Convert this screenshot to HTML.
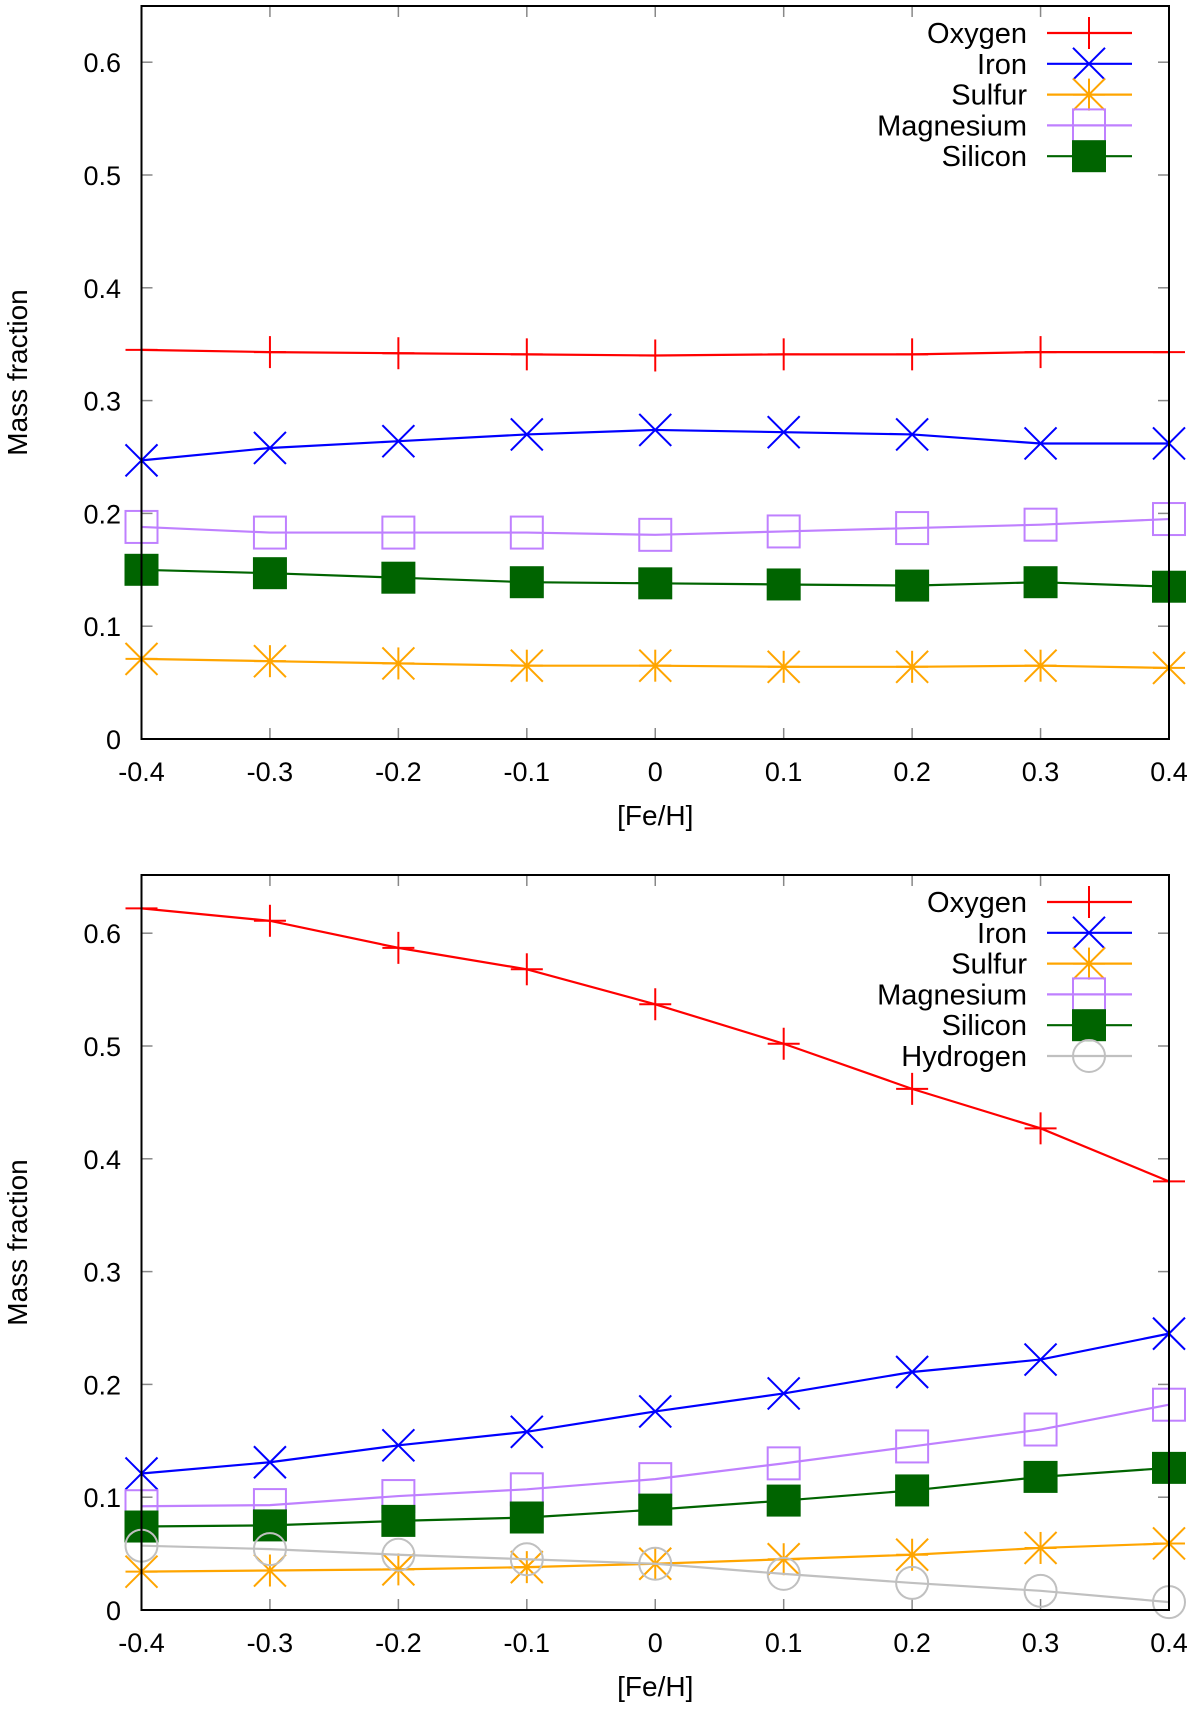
<!DOCTYPE html>
<html><head><meta charset="utf-8"><style>
html,body{margin:0;padding:0;background:#fff;}
svg{display:block;font-family:"Liberation Sans",sans-serif;}
</style></head><body>
<svg id="chart" width="1200" height="1711" viewBox="0 0 1200 1711" xmlns="http://www.w3.org/2000/svg"></svg>
<script>
const xCats = [-0.4,-0.3,-0.2,-0.1,0,0.1,0.2,0.3,0.4];
const xTickLabels = ["-0.4","-0.3","-0.2","-0.1","0","0.1","0.2","0.3","0.4"];
const yTicks = [0,0.1,0.2,0.3,0.4,0.5,0.6];
const yTickLabels = ["0","0.1","0.2","0.3","0.4","0.5","0.6"];
// top panel
const topOxygen = [0.345,0.343,0.342,0.341,0.340,0.341,0.341,0.343,0.343];
const topIron = [0.247,0.258,0.264,0.270,0.274,0.272,0.270,0.262,0.262];
const topSulfur = [0.071,0.069,0.067,0.065,0.065,0.064,0.064,0.065,0.063];
const topMagnesium = [0.188,0.183,0.183,0.183,0.181,0.184,0.187,0.190,0.195];
const topSilicon = [0.150,0.147,0.143,0.139,0.138,0.137,0.136,0.139,0.135];
// bottom panel
const botOxygen = [0.622,0.611,0.587,0.568,0.537,0.502,0.462,0.427,0.380];
const botIron = [0.121,0.131,0.146,0.158,0.176,0.192,0.211,0.222,0.245];
const botSulfur = [0.034,0.035,0.036,0.038,0.041,0.045,0.049,0.055,0.059];
const botMagnesium = [0.092,0.093,0.101,0.107,0.116,0.130,0.145,0.160,0.182];
const botSilicon = [0.074,0.075,0.079,0.082,0.089,0.097,0.106,0.118,0.126];
const botHydrogen = [0.057,0.054,0.049,0.045,0.041,0.032,0.024,0.017,0.007];

const NS="http://www.w3.org/2000/svg";
const svg=document.getElementById('chart');
function mk(tag,attrs,parent){const e=document.createElementNS(NS,tag);for(const k in attrs)e.setAttribute(k,attrs[k]);(parent||svg).appendChild(e);return e;}

const styles={
 Oxygen:{c:'#ff0000',m:'plus'},Iron:{c:'#0000ff',m:'cross'},Sulfur:{c:'#ffa500',m:'star'},
 Magnesium:{c:'#bf80ff',m:'sq'},Silicon:{c:'#006400',m:'fsq'},Hydrogen:{c:'#c0c0c0',m:'circ'}
};
function marker(g,type,x,y,c){
 const s=16;
 if(type==='plus'||type==='star'){mk('line',{x1:x-s,y1:y,x2:x+s,y2:y,stroke:c,'stroke-width':2},g);mk('line',{x1:x,y1:y-s,x2:x,y2:y+s,stroke:c,'stroke-width':2},g);}
 if(type==='cross'||type==='star'){mk('line',{x1:x-s,y1:y-s,x2:x+s,y2:y+s,stroke:c,'stroke-width':2},g);mk('line',{x1:x-s,y1:y+s,x2:x+s,y2:y-s,stroke:c,'stroke-width':2},g);}
 if(type==='sq')mk('rect',{x:x-16,y:y-16,width:32,height:32,fill:'none',stroke:c,'stroke-width':2},g);
 if(type==='fsq')mk('rect',{x:x-17,y:y-16,width:34,height:32,fill:c},g);
 if(type==='circ')mk('circle',{cx:x,cy:y,r:16,fill:'none',stroke:c,'stroke-width':2},g);
}

function panel(name,y0,yStep,top,xlabY,series){
 const L=141.5,R=1169;
 const xs=v=>L+(v+0.4)/0.8*(R-L);
 const ys=v=>y0-v/0.1*yStep;
 const g=mk('g',{});
 
 
 yTicks.forEach((t,i)=>{
  const y=ys(t);
  mk('line',{x1:L,y1:y,x2:L+11,y2:y,stroke:'#888','stroke-width':1.5},g);
  mk('line',{x1:R,y1:y,x2:R-11,y2:y,stroke:'#888','stroke-width':1.5},g);
  const tx=mk('text',{x:121,y:y+10,'text-anchor':'end','font-size':27},g);
  
  
  tx.textContent=yTickLabels[i];
 });
 xCats.forEach((v,i)=>{
  const x=xs(v);
  mk('line',{x1:x,y1:y0,x2:x,y2:y0-11,stroke:'#888','stroke-width':1.5},g);
  mk('line',{x1:x,y1:top,x2:x,y2:top+11,stroke:'#888','stroke-width':1.5},g);
  const tx=mk('text',{x:x,y:y0+42,'text-anchor':'middle','font-size':27},g);
  
  
  tx.textContent=xTickLabels[i];
 });
 const yl=mk('text',{x:0,y:0,'text-anchor':'middle','font-size':28,transform:`translate(27,${(top+y0)/2}) rotate(-90)`},g);
 
 
 yl.textContent='Mass fraction';
 const xl=mk('text',{x:(L+R)/2,y:xlabY,'text-anchor':'middle','font-size':28},g);
 
 
 xl.textContent='[Fe/H]';
 series.forEach((s,k)=>{
  const st=styles[s.n];
  const sg=mk('g',{},g);
  
  
  const pts=s.v.map((v,i)=>xs(xCats[i])+','+ys(v)).join(' ');
  mk('polyline',{points:pts,fill:'none',stroke:st.c,'stroke-width':2.2},sg);
  s.v.forEach((v,i)=>marker(sg,st.m,xs(xCats[i]),ys(v),st.c));
  const ly=top+27+k*30.8;
  const lg=mk('g',{},g);
  
  
  const t=mk('text',{x:1027,y:ly+10,'text-anchor':'end','font-size':29},lg);
  t.textContent=s.n;
  mk('line',{x1:1047,y1:ly,x2:1132,y2:ly,stroke:st.c,'stroke-width':2.2},lg);
  marker(lg,st.m,1089,ly,st.c);
 });
 mk('rect',{x:L,y:top,width:R-L,height:y0-top,fill:'none',stroke:'#000','stroke-width':2},g);
}
panel('top-panel',739,112.8,6,825,[
 {n:'Oxygen',v:topOxygen},{n:'Iron',v:topIron},{n:'Sulfur',v:topSulfur},
 {n:'Magnesium',v:topMagnesium},{n:'Silicon',v:topSilicon}]);
panel('bottom-panel',1610,112.8,875,1696,[
 {n:'Oxygen',v:botOxygen},{n:'Iron',v:botIron},{n:'Sulfur',v:botSulfur},
 {n:'Magnesium',v:botMagnesium},{n:'Silicon',v:botSilicon},{n:'Hydrogen',v:botHydrogen}]);
</script>
</body></html>
